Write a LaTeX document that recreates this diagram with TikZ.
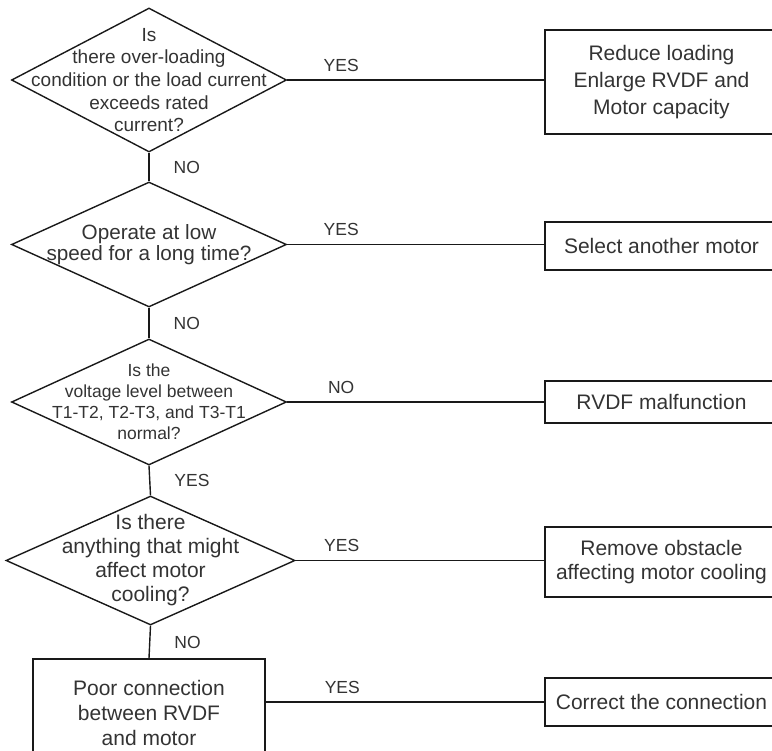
\documentclass[tikz,border=0pt]{standalone}
\usepackage{fontspec}
\setmainfont{Liberation Sans}
\usetikzlibrary{shapes.geometric}

\begin{document}
\begin{tikzpicture}[x=1pt, y=-1pt,
  every node/.style={text=black!80},
  dec/.style={diamond, draw=black!90, line width=1.4pt, inner sep=0pt, minimum width=275pt},
  qtext/.style={align=center, inner sep=0pt, text=black!80},
  act/.style={draw=black!90, line width=1.4pt, inner sep=0pt, align=center,
    minimum width=233pt, font=\fontsize{21}{25}\selectfont},
  lbl/.style={inner sep=0pt, font=\fontsize{17.5}{20}\selectfont},
  link/.style={draw=black!90, line width=1.4pt},
]
\useasboundingbox (0,0) rectangle (772,751);
\clip (0,0) rectangle (772,751);

% questions
\node[dec, minimum height=144pt,
  label={[qtext, font=\fontsize{19}{22.6}\selectfont]center:{Is\\there over-loading\\condition or the load current\\exceeds rated\\current?}}]
  (Q1) at (149,80) {};
\node[dec, minimum height=125pt,
  label={[qtext, font=\fontsize{20.7}{21.6}\selectfont]center:{Operate at low\\speed for a long time?}}]
  (Q2) at (149,244.5) {};
\node[dec, minimum height=126pt,
  label={[qtext, font=\fontsize{17.5}{21}\selectfont]center:{Is the\\voltage level between\\T1-T2, T2-T3, and T3-T1\\normal?}}]
  (Q3) at (149,402) {};
\node[dec, minimum width=289pt, minimum height=129pt,
  label={[qtext, font=\fontsize{21}{24}\selectfont]center:{Is there\\anything that might\\affect motor\\cooling?}}]
  (Q4) at (150.5,560.5) {};
\node[act, minimum width=232pt, minimum height=108pt] (Q5) at (149,713)
  {Poor connection\\between RVDF\\and motor};

% actions
\node[act, minimum height=104pt, font=\fontsize{21}{27}\selectfont] (R1) at (661.5,82)
  {Reduce loading\\Enlarge RVDF and\\Motor capacity};
\node[act, minimum height=48pt] (R2) at (661.5,246) {Select another motor};
\node[act, minimum height=42pt] (R3) at (661.5,402) {RVDF malfunction};
\node[act, minimum height=70pt, font=\fontsize{21}{24}\selectfont] (R4) at (661.5,562)
  {Remove obstacle\\affecting motor cooling};
\node[act, minimum height=48pt] (R5) at (661.5,702) {Correct the connection};

% down the chain
\draw[link] (Q1.south) -- node[lbl, right=24pt]{NO} (Q2.north);
\draw[link] (Q2.south) -- node[lbl, right=24pt]{NO} (Q3.north);
\draw[link] (Q3.south) -- node[lbl, right=24pt]{YES} (Q4.north);
\draw[link] (Q4.south) -- node[lbl, right=24pt]{NO} (Q5.north);

% across to the remedies
\draw[link] (Q1.east) -- node[lbl, above=8pt, pos=0.21]{YES} (Q1.east -| R1.west);
\draw[link] (Q2.east) -- node[lbl, above=8pt, pos=0.21]{YES} (Q2.east -| R2.west);
\draw[link] (Q3.east) -- node[lbl, above=8pt, pos=0.21]{NO} (Q3.east -| R3.west);
\draw[link] (Q4.east) -- node[lbl, above=8pt, pos=0.185]{YES} (Q4.east -| R4.west);
\draw[link] (R5.west -| Q5.east) -- node[lbl, above=8pt, pos=0.275]{YES} (R5.west);

\end{tikzpicture}
\end{document}
